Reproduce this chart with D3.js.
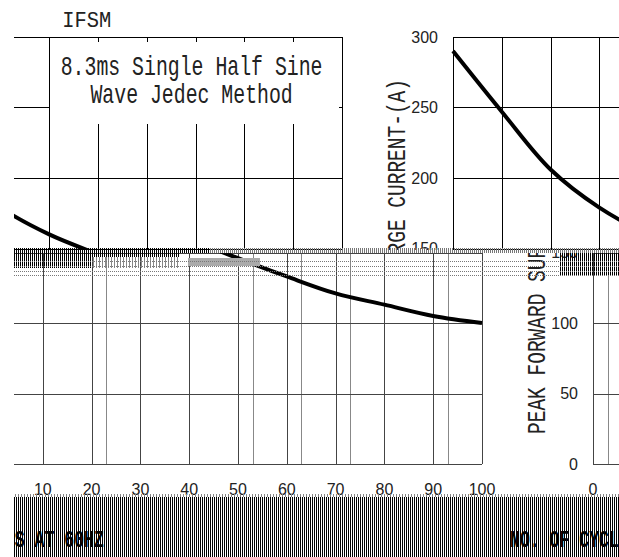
<!DOCTYPE html>
<html><head><meta charset="utf-8">
<script src="https://cdn.jsdelivr.net/npm/d3@7"></script>
<style>html,body{margin:0;padding:0;background:#fff;overflow:hidden}</style>
</head><body>
<svg id="c" width="619" height="557" xmlns="http://www.w3.org/2000/svg"></svg>
<script>
// ---- data ----
const cycles = [0, 10, 20, 30, 40, 50, 60, 70, 80, 90, 100];
const surgeCurrent = [290, 247, 206, 179, 160, 146, 133, 121, 113, 105, 100];
const xTicks = [0, 10, 20, 30, 40, 50, 60, 70, 80, 90, 100];
const xTickLabels = ["0", "10", "20", "30", "40", "50", "60", "70", "80", "90", "100"];
const yTicks = [0, 50, 100, 150, 200, 250, 300];
const yTickLabels = ["0", "50", "100", "150", "200", "250", "300"];
const ghostTicks = [0, 20, 50, 60, 70, 90];
const chartTitle = "IFSM";
const yTitle = "PEAK FORWARD SURGE CURRENT-(A)";
const xTitle = "NO. OF CYCLES AT 60HZ";
const noteLines = ["8.3ms Single Half Sine", "Wave Jedec Method"];

// ---- setup ----
const svg = d3.select("#c");
const defs = svg.append("defs");
function stripe(id, period, color) {
  const p = defs.append("pattern").attr("id", id).attr("patternUnits", "userSpaceOnUse")
    .attr("width", period).attr("height", 10);
  p.append("rect").attr("width", 1).attr("height", 10).attr("fill", color);
}
stripe("sDark", 2, "#000");
stripe("sMid", 2, "#777");
stripe("sLight", 3, "#888");
function clip(id, x0, y0, x1, y1) {
  defs.append("clipPath").attr("id", id).append("rect")
    .attr("x", x0).attr("y", y0).attr("width", x1 - x0).attr("height", y1 - y0);
}

const plotW = 488;
const x = d3.scaleLinear().domain([0, 100]).range([0, plotW]);
const y = d3.scaleLinear().domain([0, 300]).range([460, 37]);
const line = d3.line().x((d, i) => x(cycles[i])).y(d => y(d)).curve(d3.curveCatmullRom.alpha(0.5));
const MONO = "'Liberation Mono', 'DejaVu Sans Mono', monospace";
const SANS = "'Liberation Sans', Arial, sans-serif";

function drawChart(parent, tx, ty, lower) {
  const g = parent.append("g").attr("transform", `translate(${tx},${ty})`)
    .attr("shape-rendering", "crispEdges");
  const gridColor = lower ? "#444" : "#000";
  if (lower) {
    g.selectAll("line.gh").data(ghostTicks).join("line").attr("class", "gh")
      .attr("x1", d => Math.round(x(d) + 14.6) + 0.5).attr("x2", d => Math.round(x(d) + 14.6) + 0.5)
      .attr("y1", y(300)).attr("y2", y(0)).attr("stroke", "#888").attr("stroke-width", 1);
  }
  g.selectAll("line.vg").data(xTicks).join("line").attr("class", "vg")
    .attr("x1", d => Math.round(x(d)) + 0.5).attr("x2", d => Math.round(x(d)) + 0.5)
    .attr("y1", y(300)).attr("y2", y(0)).attr("stroke", gridColor).attr("stroke-width", 1);
  g.selectAll("line.hg").data(yTicks).join("line").attr("class", "hg")
    .attr("x1", x(0)).attr("x2", x(100))
    .attr("y1", d => Math.round(y(d)) + 0.5).attr("y2", d => Math.round(y(d)) + 0.5)
    .attr("stroke", gridColor).attr("stroke-width", 1);

  // annotation box
  const bx0 = x(40) + 1, bx1 = x(100) - 3;
  g.append("rect").attr("x", bx0).attr("y", y(300) + 5)
    .attr("width", bx1 - bx0).attr("height", y(250) - y(300) + 11).attr("fill", "#fff");
  noteLines.forEach((t, i) => {
    g.append("text").text(t)
      .attr("x", (bx0 + bx1) / 2 - 3).attr("y", y(300) + 38 + i * 28)
      .attr("text-anchor", "middle").attr("font-family", MONO).attr("font-size", 28)
      .attr("textLength", t.length * 11.9).attr("lengthAdjust", "spacingAndGlyphs")
      .attr("fill", "#222").attr("shape-rendering", null);
  });

  // curve
  g.append("path").datum(surgeCurrent).attr("d", line)
    .attr("fill", "none").attr("stroke", "#000").attr("stroke-width", 4)
    .attr("shape-rendering", "geometricPrecision");

  // y tick labels
  g.selectAll("text.yt").data(yTicks).join("text").attr("class", "yt")
    .text((d, i) => yTickLabels[i])
    .attr("x", -15).attr("y", d => y(d)).attr("dy", "0.36em")
    .attr("text-anchor", "end").attr("font-family", SANS).attr("font-size", 16).attr("fill", "#222");

  // y title
  g.append("text").text(yTitle)
    .attr("transform", `translate(-48,${(y(0) + y(300)) / 2 + 6}) rotate(-90)`)
    .attr("text-anchor", "middle").attr("font-family", MONO).attr("font-size", 25)
    .attr("textLength", yTitle.length * 11.7).attr("lengthAdjust", "spacingAndGlyphs")
    .attr("fill", "#222");

  // x tick labels
  g.selectAll("text.xt").data(xTicks).join("text").attr("class", "xt")
    .text((d, i) => xTickLabels[i])
    .attr("x", d => x(d)).attr("y", y(0) + 31)
    .attr("text-anchor", "middle").attr("font-family", SANS).attr("font-size", 16).attr("fill", "#222");

  // chart title
  g.append("text").text(chartTitle)
    .attr("x", x(40) + 13).attr("y", 27)
    .attr("font-family", MONO).attr("font-size", 22)
    .attr("textLength", 49).attr("lengthAdjust", "spacingAndGlyphs").attr("fill", "#222");
}

// one chart whose rows are wrapped sideways: two bands, each in two pieces
const WRAP = 599;
clip("cA", 346, 0, 619, 250);
clip("cB", 14, 0, 346, 250);
clip("cC", 500, 253, 619, 497);
clip("cD", 14, 253, 500, 497);
drawChart(svg.append("g").attr("clip-path", "url(#cA)"), 453, 0, false);
drawChart(svg.append("g").attr("clip-path", "url(#cB)"), 453 - WRAP, 0, false);
drawChart(svg.append("g").attr("clip-path", "url(#cC)"), 593, 4, true);
drawChart(svg.append("g").attr("clip-path", "url(#cD)"), 593 - WRAP, 4, true);

// ---- glitch band in the middle ----
const band = svg.append("g").attr("shape-rendering", "crispEdges");
band.append("rect").attr("x", 14).attr("y", 248).attr("width", 196).attr("height", 5).attr("fill", "url(#sDark)");
band.append("rect").attr("x", 210).attr("y", 248).attr("width", 409).attr("height", 5).attr("fill", "url(#sMid)");
band.append("rect").attr("x", 14).attr("y", 253).attr("width", 166).attr("height", 4).attr("fill", "url(#sDark)");
band.append("rect").attr("x", 14).attr("y", 257).attr("width", 78).attr("height", 11).attr("fill", "url(#sDark)");
band.append("rect").attr("x", 92).attr("y", 257).attr("width", 88).attr("height", 11).attr("fill", "url(#sLight)");
band.append("rect").attr("x", 188).attr("y", 258).attr("width", 72).attr("height", 8).attr("fill", "#aaa");
band.append("rect").attr("x", 560).attr("y", 253).attr("width", 59).attr("height", 22).attr("fill", "url(#sDark)");
[261, 266, 271, 275].forEach(yy => {
  band.append("line").attr("x1", 14).attr("x2", 619).attr("y1", yy + 0.5).attr("y2", yy + 0.5)
    .attr("stroke", "#777").attr("stroke-dasharray", "1,1");
});

// ---- glitch band at the bottom with the x title ----
clip("cE", 14, 494, 619, 557);
const bottom = svg.append("g").attr("clip-path", "url(#cE)");
bottom.append("rect").attr("x", 14).attr("y", 494).attr("width", 605).attr("height", 3)
  .attr("fill", "url(#sLight)").attr("shape-rendering", "crispEdges");
bottom.append("rect").attr("x", 14).attr("y", 497).attr("width", 605).attr("height", 60)
  .attr("fill", "url(#sDark)").attr("shape-rendering", "crispEdges");
[510, 510 - 614].forEach(x0 => {
  bottom.append("text").text(xTitle)
    .attr("x", x0).attr("y", 547)
    .attr("font-family", MONO).attr("font-size", 24).attr("font-weight", "bold")
    .attr("textLength", xTitle.length * 9.9).attr("lengthAdjust", "spacingAndGlyphs")
    .attr("fill", "#000");
});
</script>
</body></html>
